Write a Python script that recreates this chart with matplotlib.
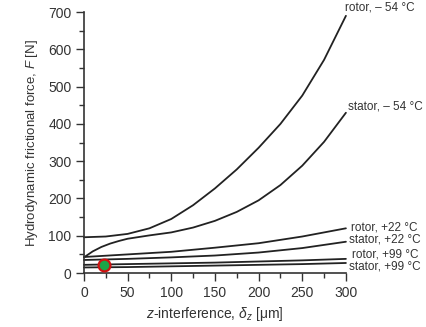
import matplotlib
matplotlib.use("Agg")
import matplotlib.pyplot as plt
from matplotlib.ticker import MultipleLocator

plt.rcParams['font.family'] = ['Liberation Sans', 'DejaVu Sans']
plt.rcParams['mathtext.fontset'] = 'custom'
plt.rcParams['mathtext.rm'] = 'Liberation Sans'
plt.rcParams['mathtext.it'] = 'Liberation Sans:italic'

x_rotor_m54 = [0, 25, 50, 75, 100, 125, 150, 175, 200, 225, 250, 275, 300]
rotor_m54 = [96, 98, 105, 120, 145, 182, 227, 278, 336, 400, 476, 572, 690]
x_stator_m54 = [0, 10, 20, 30, 40, 50, 75, 100, 125, 150, 175, 200, 225, 250, 275, 300]
stator_m54 = [42, 58, 70, 79, 86, 92, 101, 109, 122, 140, 164, 195, 236, 288, 352, 430]

x_coarse = [0, 50, 100, 150, 200, 250, 300]
rotor_p22 = [43, 50, 57, 68, 80, 98, 120]
stator_p22 = [35, 38, 42, 47, 55, 67, 84]
rotor_p99 = [22, 24, 26, 28, 31, 34, 38]
stator_p99 = [15, 16, 18, 20, 22, 24, 27]

series = [
    (x_rotor_m54, rotor_m54, "rotor, \u2013 54 \u00b0C"),
    (x_stator_m54, stator_m54, "stator, \u2013 54 \u00b0C"),
    (x_coarse, rotor_p22, "rotor, +22 \u00b0C"),
    (x_coarse, stator_p22, "stator, +22 \u00b0C"),
    (x_coarse, rotor_p99, "rotor, +99 \u00b0C"),
    (x_coarse, stator_p99, "stator, +99 \u00b0C"),
]
label_y = [713, 448, 123, 89, 49, 17]
label_x = [299, 302, 306, 304, 307, 304]

point_x = [23]
point_y = [22]

fig = plt.figure(figsize=(4.26, 3.27), dpi=100)
ax = fig.add_axes([0.197, 0.165, 0.615, 0.798])

for xs, ys, _ in series:
    ax.plot(xs, ys, color='#222222', lw=1.3, solid_capstyle='round', clip_on=False)

ax.plot(point_x, point_y, 'o', ms=8.5, mfc='#1aa548', mec='#d01010', mew=1.6, zorder=5)

for (xs, ys, lab), ly, lx in zip(series, label_y, label_x):
    ax.text(lx, ly, lab, fontsize=8.5, color='#333333', ha='left', va='center',
            clip_on=False)

ax.set_xlim(0, 300)
ax.set_ylim(0, 700)
ax.xaxis.set_major_locator(MultipleLocator(50))
ax.xaxis.set_minor_locator(MultipleLocator(25))
ax.yaxis.set_major_locator(MultipleLocator(100))
ax.yaxis.set_minor_locator(MultipleLocator(50))
ax.tick_params(which='major', direction='out', length=6, width=1, labelsize=10,
               colors='#333333', pad=3)
ax.tick_params(which='minor', direction='out', length=3.5, width=1, colors='#333333')
for s in ['top', 'right']:
    ax.spines[s].set_visible(False)
for s in ['left', 'bottom']:
    ax.spines[s].set_color('#333333')
    ax.spines[s].set_linewidth(1.2)

ax.set_xlabel("$z$-interference, $\\delta_z$ [\u03bcm]", fontsize=10, color='#333333', labelpad=4)
ax.set_ylabel("Hydrodynamic frictional force, $F$ [N]", fontsize=9.5, color='#333333', labelpad=6)

fig.savefig("out.png", dpi=100)
